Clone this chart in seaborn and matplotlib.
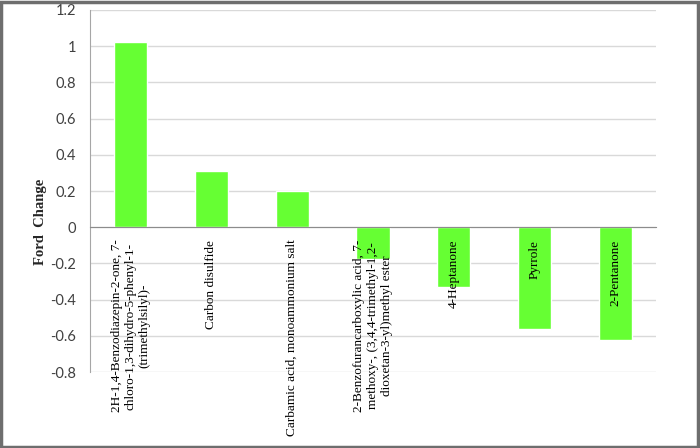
import pandas as pd
import seaborn as sns
import matplotlib.pyplot as plt
from matplotlib.patches import Rectangle

# Compounds and their fold change values
compounds = [
    "2H-1,4-Benzodiazepin-2-one, 7-\nchloro-1,3-dihydro-5-phenyl-1-\n(trimethylsilyl)-",
    "Carbon disulfide",
    "Carbamic acid, monoammonium salt",
    "2-Benzofurancarboxylic acid, 7-\nmethoxy-, (3,4,4-trimethyl-1,2-\ndioxetan-3-yl)methyl ester",
    "4-Heptanone",
    "Pyrrole",
    "2-Pentanone",
]
fold_change = [1.022, 0.31, 0.20, -0.177, -0.33, -0.562, -0.622]
y_ticks = [-0.8, -0.6, -0.4, -0.2, 0, 0.2, 0.4, 0.6, 0.8, 1, 1.2]
y_tick_labels = ["-0.8", "-0.6", "-0.4", "-0.2", "0", "0.2", "0.4", "0.6", "0.8", "1", "1.2"]

df = pd.DataFrame({"Compound": compounds, "FoldChange": fold_change})

sns.set_style("white")
fig = plt.figure(figsize=(7, 4.48), dpi=100)
ax = fig.add_axes([0.1286, 0.1696, 0.8084, 0.8081])

sns.barplot(data=df, x="Compound", y="FoldChange", color="#66FF33",
            saturation=1, width=0.41, ax=ax)

ax.set_ylim(-0.8, 1.2)
ax.set_xlim(-0.5, 6.5)
ax.set_yticks(y_ticks)
ax.set_yticklabels(y_tick_labels, fontsize=10.5, color="#404040", family="Lato")
ax.grid(axis="y", color="#D9D9D9", linewidth=1)
ax.set_axisbelow(True)
# category labels sit on top of the bars, grid stays behind
ax.xaxis.set_zorder(3)

# axis line at zero, labels hang just below it
for s in ["top", "right"]:
    ax.spines[s].set_visible(False)
ax.spines["left"].set_color("#A6A6A6")
ax.spines["bottom"].set_color("#8C8C8C")
ax.spines["bottom"].set_position(("data", 0))
ax.tick_params(axis="both", length=0)
ax.tick_params(axis="y", pad=10)
ax.tick_params(axis="x", pad=9)
for lbl in ax.get_xticklabels():
    lbl.set_rotation(90)
    lbl.set_ha("center")
    lbl.set_va("top")
    lbl.set_multialignment("center")
    lbl.set_family("Liberation Serif")
    lbl.set_fontsize(9.5)
    lbl.set_color("black")

ax.set_xlabel("")
ax.set_ylabel("Ford  Change", family="Liberation Serif", fontsize=10.5,
              fontweight="bold")
ax.yaxis.set_label_coords(-0.076, 0.414)

# outer frame around the whole chart
fig.patches.append(Rectangle((0.002, 0.003), 0.995, 0.993, transform=fig.transFigure,
                             fill=False, edgecolor="#6E6E6E", linewidth=2.5))

plt.savefig("out.png", dpi=100)
